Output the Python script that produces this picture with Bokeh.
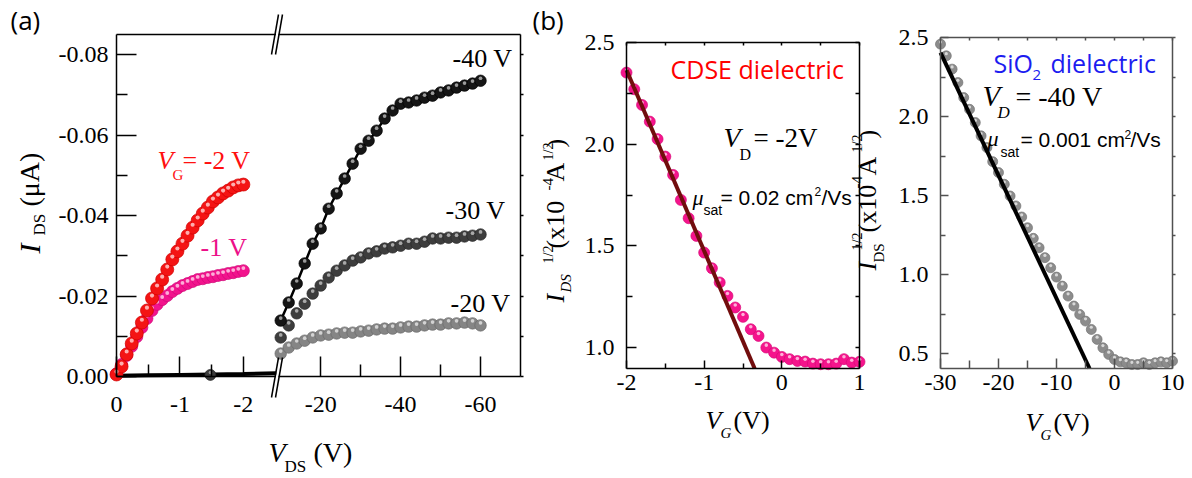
import numpy as np
from math import pi
from bokeh.plotting import figure
from bokeh.models import (Range1d, FixedTicker, LinearAxis, Label, Arrow,
                          PrintfTickFormatter, CustomJSTickFormatter)
from bokeh.layouts import row
from bokeh.embed import file_html
from bokeh.resources import INLINE

# ------------------------------------------------------------------ data
# panel (a): output curves, VDS (V) vs IDS (uA)
vds_low = [0.0, -0.08, -0.16, -0.24, -0.32, -0.40, -0.48, -0.56, -0.64, -0.72, -0.80, -0.88, -0.96,
           -1.04, -1.12, -1.20, -1.28, -1.36, -1.44, -1.52, -1.60, -1.68, -1.76, -1.84, -1.92, -2.00]
ids_vg_m2 = [-0.0005, -0.0025, -0.0055, -0.0082, -0.0107, -0.0134, -0.0164, -0.0194, -0.0219, -0.0241,
             -0.0266, -0.0291, -0.0311, -0.0330, -0.0350, -0.0370, -0.0388, -0.0405, -0.0420, -0.0435,
             -0.0445, -0.0455, -0.0462, -0.0470, -0.0475, -0.0477]
ids_vg_m1 = [-0.0007, -0.0030, -0.0052, -0.0075, -0.0099, -0.0122, -0.0144, -0.0164, -0.0179, -0.0191,
             -0.0201, -0.0211, -0.0219, -0.0226, -0.0231, -0.0236, -0.0241, -0.0243, -0.0246, -0.0248,
             -0.0251, -0.0253, -0.0256, -0.0258, -0.0261, -0.0263]
vds_zero = [0.0, -0.5, -1.0, -1.5, -2.0, -2.52]
ids_vg_0 = [-0.0002, -0.0003, -0.0004, -0.0005, -0.0006, -0.0008]
vds_zero_pt = [-1.48]
ids_zero_pt = [-0.0004]

vds_high = [-10, -12, -14, -16, -18, -20, -22, -24, -26, -28, -30, -32, -34, -36, -38, -40,
            -42, -44, -46, -48, -50, -52, -54, -56, -58, -60]
ids_vg_m40 = [-0.0139, -0.0184, -0.0231, -0.0281, -0.0330, -0.0368, -0.0417, -0.0455, -0.0492, -0.0529,
              -0.0566, -0.0586, -0.0611, -0.0641, -0.0661, -0.0678, -0.0681, -0.0686, -0.0693, -0.0698,
              -0.0706, -0.0711, -0.0718, -0.0723, -0.0728, -0.0735]
ids_vg_m30 = [-0.0097, -0.0127, -0.0157, -0.0181, -0.0206, -0.0226, -0.0246, -0.0263, -0.0276, -0.0288,
              -0.0296, -0.0306, -0.0311, -0.0318, -0.0321, -0.0325, -0.0330, -0.0330, -0.0335, -0.0343,
              -0.0343, -0.0345, -0.0345, -0.0348, -0.0350, -0.0353]
ids_vg_m20 = [-0.0057, -0.0072, -0.0082, -0.0089, -0.0097, -0.0102, -0.0104, -0.0107, -0.0109, -0.0109,
              -0.0112, -0.0114, -0.0117, -0.0119, -0.0119, -0.0122, -0.0124, -0.0124, -0.0127, -0.0129,
              -0.0129, -0.0132, -0.0132, -0.0134, -0.0132, -0.0127]

# panel (b) left: CDSE dielectric transfer curve, VG (V) vs IDS^1/2
vg_cdse = [-2.0, -1.9, -1.8, -1.7, -1.6, -1.5, -1.4, -1.3, -1.2, -1.1, -1.0, -0.9, -0.8, -0.7, -0.6,
           -0.5, -0.4, -0.3, -0.2, -0.1, 0.0, 0.1, 0.2, 0.3, 0.4, 0.5, 0.6, 0.7, 0.8, 0.9, 1.0]
sqrt_cdse = [2.352, 2.270, 2.193, 2.111, 2.025, 1.939, 1.849, 1.726, 1.636, 1.549, 1.467, 1.390, 1.320,
             1.254, 1.197, 1.151, 1.090, 1.057, 1.000, 0.975, 0.954, 0.943, 0.934, 0.931, 0.921, 0.918,
             0.918, 0.921, 0.943, 0.926, 0.930]
fit_cdse_x = [-2.0, -0.35]
fit_cdse_y = [2.365, 0.897]

# panel (b) right: SiO2 dielectric transfer curve
vg_sio2 = [-30, -29, -28, -27, -26, -25, -24, -23, -22, -21, -20, -19, -18, -17, -16, -15, -14, -13,
           -12, -11, -10, -9, -8, -7, -6, -5, -4, -3, -2, -1, 0, 1, 2, 3, 4, 5, 6, 7, 8, 9, 10]
sqrt_sio2 = [2.458, 2.384, 2.300, 2.215, 2.120, 2.046, 1.962, 1.878, 1.804, 1.715, 1.646, 1.572, 1.498,
             1.435, 1.365, 1.297, 1.230, 1.171, 1.108, 1.044, 0.985, 0.928, 0.865, 0.802, 0.749, 0.707,
             0.654, 0.591, 0.538, 0.496, 0.464, 0.449, 0.443, 0.432, 0.432, 0.443, 0.432, 0.443, 0.449,
             0.443, 0.454]
fit_sio2_x = [-30.0, -4.3]
fit_sio2_y = [2.405, 0.407]

# ------------------------------------------------------------------ style / layout
SERIF = "Liberation Serif"
SANS = "Liberation Sans"
CAL = "Open Sans"
H = 476
BASE_SHIFT = 0.38   # label anchor correction (fraction of font size)
TICK_FONT = "24px"

# broken x axis of panel (a)
LEFT_END = -2.52      # left segment: 0 .. -2.52 V
GAP = 0.094           # gap (axis units) between the two segments
RIGHT_START = -10.4   # right segment starts here
RIGHT_K = 0.063       # axis units per volt in the right segment


def brk(v):
    v = np.asarray(v, dtype=float)
    return np.where(v >= LEFT_END, -v, -LEFT_END + GAP + (-v + RIGHT_START) * RIGHT_K)


class Panel:
    """A figure whose frame fills the canvas; the plot box sits at page pixels L..R, T..B."""

    def __init__(self, CL, W, L, R, T, B, x0, x1, y0, y1):
        self.CL, self.W, self.L, self.R, self.T, self.B = CL, W, L, R, T, B
        self.x0, self.x1, self.y0, self.y1 = x0, x1, y0, y1
        kx = (x1 - x0) / (R - L)
        ky = (y1 - y0) / (B - T)
        self.kx, self.ky = kx, ky
        xr = Range1d(x0 - (L - CL) * kx, x1 + (CL + W - R) * kx)
        yr = Range1d(y0 - (H - B) * ky, y1 + T * ky)
        p = figure(width=W, height=H, x_range=xr, y_range=yr, output_backend="svg",
                   toolbar_location=None, x_axis_type=None, y_axis_type=None, title=None,
                   min_border=0, min_border_left=0, min_border_right=0,
                   min_border_top=0, min_border_bottom=0)
        p.outline_line_color = None
        p.background_fill_color = "white"
        p.border_fill_color = "white"
        self.p = p

    def dx(self, px):
        return self.x0 + (px - self.L) * self.kx

    def dy(self, py):
        return self.y0 + (self.B - py) * self.ky

    def axis(self, side, ticks, minor=(), tin=0, tout=0, mtin=0, mtout=0, fmt=None,
             standoff=8, color="black", lw=1.5, size=TICK_FONT):
        if side == "below":
            loc, bnd = self.y0, (self.x0, self.x1)
        elif side == "above":
            loc, bnd = self.y1, (self.x0, self.x1)
        elif side == "left":
            loc, bnd = self.x0, (self.y0, self.y1)
        else:
            loc, bnd = self.x1, (self.y0, self.y1)
        ax = LinearAxis(ticker=FixedTicker(ticks=[float(t) for t in ticks],
                                           minor_ticks=[float(t) for t in minor]),
                        fixed_location=float(loc), bounds=(float(min(bnd)), float(max(bnd))))
        ax.axis_line_color = color
        ax.axis_line_width = lw
        ax.major_tick_line_color = color
        ax.major_tick_line_width = lw
        ax.minor_tick_line_color = color
        ax.minor_tick_line_width = lw
        ax.major_tick_in = tin
        ax.major_tick_out = tout
        ax.minor_tick_in = mtin
        ax.minor_tick_out = mtout
        if fmt is not None:
            ax.formatter = fmt
            ax.major_label_text_font = SERIF
            ax.major_label_text_font_size = size
            ax.major_label_text_color = "black"
            ax.major_label_standoff = standoff
        else:
            ax.major_label_text_color = None
            ax.major_label_standoff = 0
        self.p.add_layout(ax, side)
        return ax

    def put(self, px, py, text, size, font=SERIF, style="normal", color="black", angle=0.0):
        sh = BASE_SHIFT * size
        if angle == 0.0:
            py = py - sh
        else:
            px = px - sh
        self.p.add_layout(Label(x=px - self.CL, y=H - py, x_units="screen", y_units="screen",
                                text=text, text_font=font, text_font_size=f"{size}px",
                                text_font_style=style, text_color=color, angle=angle,
                                text_align="left", text_baseline="alphabetic"))

    def spheres(self, x, y, size, fill, edge, hi):
        self.p.scatter(x, y, size=size, fill_color=fill, line_color=edge, line_width=0.7)
        hy = np.asarray(y, dtype=float) + self.ky * size * 0.22
        self.p.scatter(x, hy, size=size * 0.32, fill_color=hi, line_color=None, fill_alpha=0.9)


# ------------------------------------------------------------------ panel (a)
A = Panel(0, 530, 116, 520, 34, 376, 0.0, float(brk(-70.0)), 0.0, -0.085)

xt_vals = [0, -1, -2, -20, -40, -60]
xt_labels = ["0", "-1", "-2", "-20", "-40", "-60"]
xt_pos = [round(float(v), 6) for v in brk(xt_vals)]
xt_minor = [round(float(v), 6) for v in brk([-0.5, -1.5, -30, -50])]
fmt_a = CustomJSTickFormatter(args=dict(pos=xt_pos, lab=xt_labels), code="""
for (let i = 0; i < pos.length; i++) { if (Math.abs(tick - pos[i]) < 1e-4) return lab[i]; }
return "";""")
A.axis("below", xt_pos, xt_minor, tin=20, mtin=12, fmt=fmt_a, standoff=20)
A.axis("left", [0, -0.02, -0.04, -0.06, -0.08], [-0.01, -0.03, -0.05, -0.07],
       tin=20, mtin=11, fmt=PrintfTickFormatter(format="%.2f"), standoff=8)
A.axis("above", [])
A.axis("right", [0, -0.01, -0.02, -0.03, -0.04, -0.05, -0.06, -0.07, -0.08], tout=3)

pa = A.p
pa.line(brk(vds_zero), ids_vg_0, line_color="black", line_width=4)
A.spheres(brk(vds_zero_pt), ids_zero_pt, 11, "#3a3a3a", "#222222", "#9a9a9a")
A.spheres(brk(vds_low), ids_vg_m1, 12, "#f2138d", "#d00a78", "#ffc0e0")
A.spheres(brk(vds_low), ids_vg_m2, 13, "#f41414", "#d00000", "#ffc0c0")
A.spheres(brk(vds_high), ids_vg_m20, 11.5, "#858585", "#6a6a6a", "#dcdcdc")
A.spheres(brk(vds_high), ids_vg_m30, 11.5, "#3d3d3d", "#2a2a2a", "#b5b5b5")
pa.line(brk(vds_high), ids_vg_m40, line_color="black", line_width=2.5)
A.spheres(brk(vds_high), ids_vg_m40, 11.5, "#151515", "#000000", "#aaaaaa")

# axis-break marks
for (x0, y0, x1, y1) in [(275.5, A.T, 278.0, A.T), (275.5, A.B, 278.0, A.B)]:
    pa.add_layout(Arrow(end=None, x_start=A.dx(x0), y_start=A.dy(y0), x_end=A.dx(x1), y_end=A.dy(y1),
                        line_color="white", line_width=4))
for (x0, y0, x1, y1) in [(271, 54, 278, 14), (275, 54, 282, 14), (271, 397, 278, 357), (275, 397, 282, 357)]:
    pa.add_layout(Arrow(end=None, x_start=A.dx(x0), y_start=A.dy(y0), x_end=A.dx(x1), y_end=A.dy(y1),
                        line_color="black", line_width=1.5))

A.put(10, 29, "(a)", 26, CAL)
A.put(40, 253, "I", 30, SERIF, "italic", angle=pi / 2)
A.put(45, 235, "DS", 17, SERIF, angle=pi / 2)
A.put(40, 206, "(\u03bcA)", 28, SERIF, angle=pi / 2)
A.put(268, 463, "V", 28, SERIF, "italic")
A.put(284, 472, "DS", 17, SERIF)
A.put(313, 463, "(V)", 28, SERIF)
A.put(157, 170, "V", 26, SERIF, "italic", "#ff1010")
A.put(172, 180, "G", 15, SERIF, "normal", "#ff1010")
A.put(182, 170, "= -2 V", 26, SERIF, "normal", "#ff1010")
A.put(200, 257, "-1 V", 26, SERIF, "normal", "#ec1088")
A.put(452, 68, "-40 V", 26, SERIF)
A.put(445, 220, "-30 V", 26, SERIF)
A.put(450, 313, "-20 V", 26, SERIF)

# ------------------------------------------------------------------ panel (b) left
B1 = Panel(530, 358, 626, 859, 42, 368, -2.0, 1.0, 0.897, 2.5)
B1.axis("left", [1.0, 1.5, 2.0, 2.5], [1.25, 1.75, 2.25], tin=10, mtin=6,
        fmt=PrintfTickFormatter(format="%.1f"), standoff=12)
B1.axis("below", [-2, -1, 0, 1], [-1.5, -0.5, 0.5], tin=8, mtin=5,
        fmt=PrintfTickFormatter(format="%d"), standoff=6)
B1.axis("above", [-2, -1.5, -1, -0.5, 0, 0.5, 1], tin=3)
B1.axis("right", [1.0, 1.25, 1.5, 1.75, 2.0, 2.25, 2.5], tin=4)

B1.spheres(vg_cdse, sqrt_cdse, 11, "#f5148c", "#d80a78", "#ffc0e0")
B1.p.line(fit_cdse_x, fit_cdse_y, line_color="#720d0d", line_width=4)

B1.put(532, 29, "(b)", 26, CAL)
# y label of the left (b) panel
B1.put(565, 302, "I", 26, SERIF, "italic", angle=pi / 2)
B1.put(571, 292, "DS", 15, SERIF, "italic", angle=pi / 2)
B1.put(553, 263, "1/2", 14, SERIF, angle=pi / 2)
B1.put(565, 248, "(x10", 26, SERIF, angle=pi / 2)
B1.put(553, 190, "-4", 15, SERIF, angle=pi / 2)
B1.put(565, 181, "A", 26, SERIF, angle=pi / 2)
B1.put(553, 160, "1/2", 14, SERIF, angle=pi / 2)
B1.put(565, 147, ")", 26, SERIF, angle=pi / 2)
# y label of the right (b) panel (it sits between the two frames)
B1.put(877, 270, "I", 26, SERIF, "italic", angle=pi / 2)
B1.put(884, 262, "DS", 15, SERIF, angle=pi / 2)
B1.put(862, 250, "1/2", 14, SERIF, angle=pi / 2)
B1.put(877, 232, "(x10", 26, SERIF, angle=pi / 2)
B1.put(862, 188, "-4", 15, SERIF, angle=pi / 2)
B1.put(877, 175, "A", 26, SERIF, angle=pi / 2)
B1.put(862, 152, "1/2", 14, SERIF, angle=pi / 2)
B1.put(877, 138, ")", 26, SERIF, angle=pi / 2)
# x label
B1.put(705, 430, "V", 26, SERIF, "italic")
B1.put(720, 438, "G", 15, SERIF, "italic")
B1.put(733, 430, "(V)", 26, SERIF)
# annotations
B1.put(670, 78, "CDSE dielectric", 25, CAL, "normal", "#ff0000")
B1.put(723, 148, "V", 28, SERIF, "italic")
B1.put(739, 160, "D", 16, SERIF)
B1.put(753, 148, "= -2V", 27, SERIF)
B1.put(692, 205, "\u03bc", 22, SERIF, "italic")
B1.put(703, 215, "sat", 14, SANS)
B1.put(720, 205, "= 0.02 cm", 21, SANS)
B1.put(814, 196, "2", 12, SANS)
B1.put(821, 205, "/Vs", 21, SANS)

# ------------------------------------------------------------------ panel (b) right
FRAME2 = "#505050"
B2 = Panel(888, 302, 940, 1172, 37, 368, -30.0, 10.0, 0.407, 2.5)
B2.axis("left", [0.5, 1.0, 1.5, 2.0, 2.5], [0.75, 1.25, 1.75, 2.25], tin=8, mtin=5,
        fmt=PrintfTickFormatter(format="%.1f"), standoff=12, color=FRAME2)
B2.axis("below", [-30, -20, -10, 0, 10], [-25, -15, -5, 5], tin=10, mtin=8,
        fmt=PrintfTickFormatter(format="%d"), standoff=6, color=FRAME2)
B2.axis("above", [-30, -25, -20, -15, -10, -5, 0, 5, 10], tin=3, color=FRAME2)
B2.axis("right", [0.5, 0.75, 1.0, 1.25, 1.5, 1.75, 2.0, 2.25, 2.5], tout=3, color=FRAME2)

B2.spheres(vg_sio2, sqrt_sio2, 10, "#8c8c8c", "#747474", "#e0e0e0")
B2.p.line(fit_sio2_x, fit_sio2_y, line_color="black", line_width=4)

B2.put(993, 72, "SiO", 25, CAL, "normal", "#1c1cf0")
B2.put(1032, 80, "2", 15, CAL, "normal", "#1c1cf0")
B2.put(1050, 72, "dielectric", 25, CAL, "normal", "#1c1cf0")
B2.put(982, 107, "V", 29, SERIF, "italic")
B2.put(997, 118, "D", 17, SERIF, "italic")
B2.put(1015, 107, "= -40 V", 28, SERIF)
B2.put(987, 146, "\u03bc", 22, SERIF, "italic")
B2.put(1000, 157, "sat", 14, SANS)
B2.put(1020, 147, "= 0.001 cm", 21, SANS)
B2.put(1124, 139, "2", 12, SANS)
B2.put(1130, 147, "/Vs", 21, SANS)
B2.put(1025, 432, "V", 26, SERIF, "italic")
B2.put(1040, 440, "G", 15, SERIF, "italic")
B2.put(1053, 432, "(V)", 26, SERIF)

layout = row(A.p, B1.p, B2.p, spacing=0)
open("out.html", "w").write(file_html(layout, INLINE))
